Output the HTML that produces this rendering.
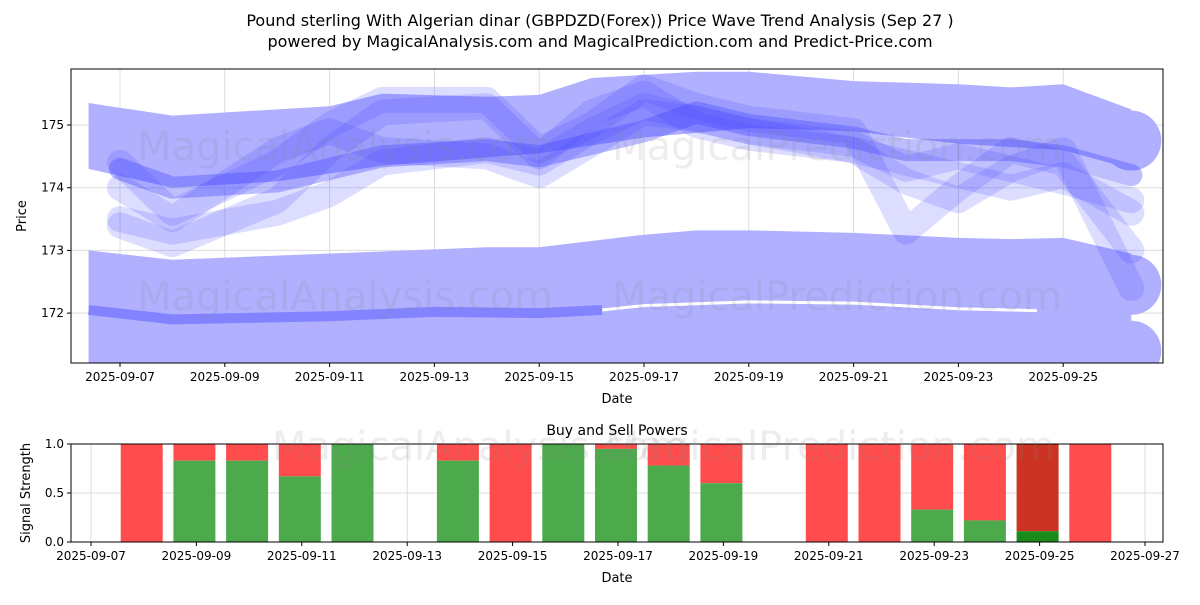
<!DOCTYPE html>
<html><head><meta charset="utf-8"><style>
body{margin:0;background:#fff;font-family:"Liberation Sans","DejaVu Sans",sans-serif}
svg text{font-family:"DejaVu Sans","Liberation Sans",sans-serif}
</style></head><body>
<svg id="chart" width="1200" height="600" xmlns="http://www.w3.org/2000/svg">
<text x="600" y="26" text-anchor="middle" font-size="16">Pound sterling With Algerian dinar (GBPDZD(Forex)) Price Wave Trend Analysis (Sep 27 )</text>
<text x="600" y="47" text-anchor="middle" font-size="16">powered by MagicalAnalysis.com and MagicalPrediction.com and Predict-Price.com</text>
<g id="topPlot"></g>
<g id="botPlot"></g>
</svg>
<script>
// top chart data (day offset from 2025-09-07)
const bandTopDays=[-0.6,1,4,5,7,8,9,11,12,14,16,17,18,19.3];
const bandTopVals=[175.35,175.15,175.3,175.5,175.45,175.48,175.75,175.85,175.85,175.7,175.65,175.6,175.65,175.25];
const bandBotDays=[-0.6,1,3,5,8,10,12,14,16,18,19.3];
const bandBotVals=[174.3,174.0,174.1,174.35,174.55,174.8,174.95,174.9,174.7,174.6,174.3];
const lowTopDays=[-0.6,1,7,8,10,11,12,14,16,17,18,19.3];
const lowTopVals=[173.0,172.85,173.05,173.05,173.25,173.32,173.32,173.28,173.2,173.18,173.2,172.95];
const waveDays=[0,1,3,4,5,7,8,9,10,11,12,14,15,16,17,18,19.3];
const waveA=[174.3,174.0,174.1,174.3,174.5,174.6,174.5,174.7,174.9,175.2,175.0,174.8,174.6,174.6,174.6,174.5,174.2];
const waveB=[174.4,173.6,174.4,175.0,175.4,175.4,174.6,175.0,175.6,175.3,175.1,174.9,173.3,174.0,174.6,174.4,173.0];
const waveC=[173.4,173.1,173.8,174.6,175.2,175.3,174.5,175.2,175.5,175.0,174.8,174.6,174.1,173.8,174.3,174.6,172.4];
const waveD=[174.0,173.5,174.6,174.9,174.6,174.5,174.2,174.7,175.2,175.1,174.9,174.7,174.3,174.5,174.3,174.1,173.8];
const waveE=[173.5,173.3,173.6,173.9,174.4,174.6,174.4,174.9,175.3,175.1,174.9,174.6,174.4,174.2,174.0,174.2,173.6];
const endDay=19.3;
const endVals=[174.75,172.45,171.4];
const yTicks=[172,173,174,175];
const xTickDays=[0,2,4,6,8,10,12,14,16,18];
const xTickLabels=["2025-09-07","2025-09-09","2025-09-11","2025-09-13","2025-09-15","2025-09-17","2025-09-19","2025-09-21","2025-09-23","2025-09-25"];
// bottom chart data (day offset from 2025-09-07)
const barDays=[1,2,3,4,5,7,8,9,10,11,12,14,15,16,17,18,19];
const buyVals=[0,0.83,0.83,0.67,1.0,0.83,0,1.0,0.95,0.78,0.6,0,0,0.33,0.22,0.11,0];
const sigTicks=[0,0.5,1.0];
const bTickDays=[0,2,4,6,8,10,12,14,16,18,20];
const bTickLabels=["2025-09-07","2025-09-09","2025-09-11","2025-09-13","2025-09-15","2025-09-17","2025-09-19","2025-09-21","2025-09-23","2025-09-25","2025-09-27"];

const NS="http://www.w3.org/2000/svg";
function mk(p,t,a){const e=document.createElementNS(NS,t);for(const k in a)e.setAttribute(k,a[k]);p.appendChild(e);return e;}
const T={l:71,r:1163,t:69,b:363};
const xs=d=>120+d*52.4, ys=v=>125+(175-v)*62.7;
const topG=document.getElementById('topPlot');
let e=mk(topG,'rect',{x:T.l,y:T.t,width:T.r-T.l,height:T.b-T.t,fill:'#fff'});


const cp=mk(topG,'clipPath',{id:'cp'});mk(cp,'rect',{x:T.l,y:T.t,width:T.r-T.l,height:T.b-T.t});
const g=mk(topG,'g',{'clip-path':'url(#cp)'});
yTicks.forEach(v=>{mk(g,'line',{x1:T.l,x2:T.r,y1:ys(v),y2:ys(v),stroke:'#ddd','stroke-width':1});});
xTickDays.forEach(d=>{mk(g,'line',{x1:xs(d),x2:xs(d),y1:T.t,y2:T.b,stroke:'#ddd','stroke-width':1});});
const col='#b0b0ff';
function poly(dt,vt,db,vb){let pts=dt.map((d,i)=>xs(d)+','+ys(vt[i]));for(let i=db.length-1;i>=0;i--)pts.push(xs(db[i])+','+ys(vb[i]));return pts.join(' ');}
e=mk(g,'polygon',{points:poly(bandTopDays,bandTopVals,bandBotDays,bandBotVals),fill:col});


e=mk(g,'polygon',{points:poly(lowTopDays,lowTopVals,[-0.6,19.3],[171.0,171.0]),fill:col});


endVals.forEach(v=>{const c=mk(g,'circle',{cx:xs(endDay),cy:ys(v),r:30,fill:col});

});
e=mk(g,'polyline',{points:[[9.2,172.05],[10,172.12],[12,172.18],[14,172.16],[16,172.07],[17.5,172.04]].map(p=>xs(p[0])+','+ys(p[1])).join(' '),fill:'none',stroke:'#fff','stroke-width':3});


e=mk(g,'polyline',{points:[[-0.6,172.05],[1,171.9],[4,171.95],[6,172.02],[8,172.0],[9.2,172.05]].map(p=>xs(p[0])+','+ys(p[1])).join(' '),fill:'none',stroke:'#7070ff','stroke-width':10,'stroke-opacity':0.7});


[waveA,waveB,waveC,waveD,waveE].forEach((w,k)=>{
 const l=mk(g,'polyline',{points:waveDays.map((d,i)=>xs(d)+','+ys(w[i])).join(' '),fill:'none',stroke:'#4444ff','stroke-opacity':k==0?0.35:0.18,'stroke-width':k==0?22:26,'stroke-linejoin':'round','stroke-linecap':'round'});
 
 
});
e=mk(topG,'rect',{x:T.l,y:T.t,width:T.r-T.l,height:T.b-T.t,fill:'none',stroke:'#000','stroke-width':1});


yTicks.forEach(v=>{mk(topG,'line',{x1:T.l-4,x2:T.l,y1:ys(v),y2:ys(v),stroke:'#000'});
 const t=mk(topG,'text',{x:T.l-7,y:ys(v)+4,'text-anchor':'end','font-size':12});t.textContent=v;
 
 });
xTickDays.forEach((d,i)=>{mk(topG,'line',{x1:xs(d),x2:xs(d),y1:T.b,y2:T.b+4,stroke:'#000'});
 const t=mk(topG,'text',{x:xs(d),y:T.b+18,'text-anchor':'middle','font-size':12});t.textContent=xTickLabels[i];
 
 });
e=mk(topG,'text',{x:617,y:403,'text-anchor':'middle','font-size':13});e.textContent='Date';


e=mk(topG,'text',{x:26,y:216,'text-anchor':'middle','font-size':13,transform:'rotate(-90 26 216)'});e.textContent='Price';


[[345,160,'MagicalAnalysis.com'],[837,160,'MagicalPrediction.com'],[345,310,'MagicalAnalysis.com'],[837,310,'MagicalPrediction.com'],[480,460,'MagicalAnalysis.com'],[830,460,'MagicalPrediction.com']].forEach(w=>{
 const t=mk(document.getElementById('chart'),'text',{x:w[0],y:w[1],'text-anchor':'middle','font-size':40,fill:'#888','fill-opacity':0.15});t.textContent=w[2];
 
 });

// bottom chart
const B={l:71,r:1163,t:444,b:542};
const bx=d=>91+d*52.7, by=v=>B.b-v*(B.b-B.t);
const botG=document.getElementById('botPlot');
sigTicks.forEach(v=>mk(botG,'line',{x1:B.l,x2:B.r,y1:by(v),y2:by(v),stroke:'#ddd'}));
bTickDays.forEach(d=>mk(botG,'line',{x1:bx(d),x2:bx(d),y1:B.t,y2:B.b,stroke:'#ddd'}));
barDays.forEach((d,i)=>{const b=buyVals[i];const dark=(d==18);
 const r=mk(botG,'rect',{x:bx(d)-23,y:by(1),width:42,height:by(b)-by(1),fill:dark?'#cc3322':'#ff4c4c'});
 
 
 const gr=mk(botG,'rect',{x:bx(d)-23,y:by(b),width:42,height:by(0)-by(b),fill:dark?'#1a8a1a':'#4caa4c'});
 
 });
e=mk(botG,'rect',{x:B.l,y:B.t,width:B.r-B.l,height:B.b-B.t,fill:'none',stroke:'#000'});


sigTicks.forEach(v=>{mk(botG,'line',{x1:B.l-4,x2:B.l,y1:by(v),y2:by(v),stroke:'#000'});
 const t=mk(botG,'text',{x:B.l-7,y:by(v)+4,'text-anchor':'end','font-size':12});t.textContent=v.toFixed(1);
 
 });
bTickDays.forEach((d,i)=>{mk(botG,'line',{x1:bx(d),x2:bx(d),y1:B.b,y2:B.b+4,stroke:'#000'});
 const t=mk(botG,'text',{x:bx(d),y:B.b+18,'text-anchor':'middle','font-size':12});t.textContent=bTickLabels[i];
 
 });
e=mk(botG,'text',{x:617,y:435,'text-anchor':'middle','font-size':14});e.textContent='Buy and Sell Powers';


e=mk(botG,'text',{x:617,y:582,'text-anchor':'middle','font-size':13});e.textContent='Date';


e=mk(botG,'text',{x:30,y:493,'text-anchor':'middle','font-size':13,transform:'rotate(-90 30 493)'});e.textContent='Signal Strength';


</script>
</body></html>
